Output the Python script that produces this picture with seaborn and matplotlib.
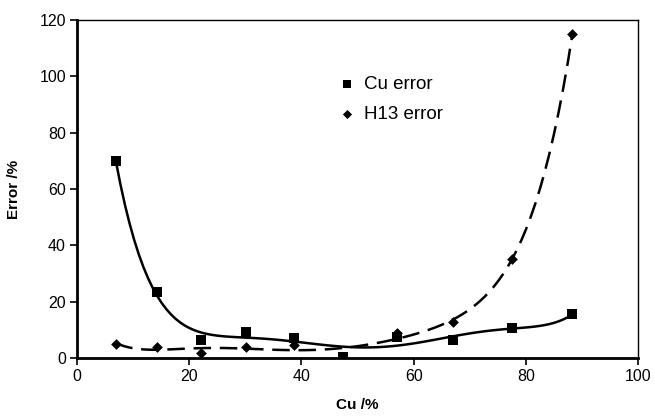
import matplotlib
matplotlib.use("Agg")
import matplotlib.pyplot as plt
import seaborn as sns

# values
cu_pct = [6.9, 14.3, 22.1, 30.1, 38.7, 47.4, 57.0, 67.0, 77.5, 88.3]
cu_error = [69.9, 23.4, 6.4, 9.2, 7.3, 0.4, 7.5, 6.4, 10.8, 15.5]
h13_error = [5.2, 3.9, 2.0, 3.9, 4.8, 0.5, 9.0, 12.9, 35.1, 115.0]

sns.set_style("white")
plt.rcParams['font.family'] = ['Liberation Sans', 'DejaVu Sans']
plt.rcParams['text.color'] = 'black'
plt.rcParams['xtick.color'] = 'black'
plt.rcParams['ytick.color'] = 'black'
plt.rcParams['axes.labelcolor'] = 'black'

fig = plt.figure(figsize=(6.55, 4.16), dpi=100)
ax = fig.add_axes([0.1176, 0.139, 0.8565, 0.813])

# polynomial trendlines
sns.regplot(x=cu_pct, y=cu_error, order=6, ci=None, scatter=False, ax=ax,
            line_kws=dict(color="black", lw=1.8))
sns.regplot(x=cu_pct, y=h13_error, order=6, ci=None, scatter=False, ax=ax,
            line_kws=dict(color="black", lw=1.8, dashes=(7, 3.5)))

sns.scatterplot(x=cu_pct, y=cu_error, marker="s", s=42, color="black",
                edgecolor="black", linewidth=0, label="Cu error", ax=ax, zorder=3)
sns.scatterplot(x=cu_pct, y=h13_error, marker="D", s=30, color="black",
                edgecolor="black", linewidth=0, label="H13 error", ax=ax, zorder=3)

ax.set_xlim(0, 100)
ax.set_ylim(0, 120)
ax.set_xticks(range(0, 101, 20))
ax.set_yticks(range(0, 121, 20))
ax.tick_params(axis="both", direction="out", length=5, width=1.2, labelsize=11.5,
               left=True, bottom=True, pad=3)
ax.set_xlabel("Cu /%", fontsize=11, fontweight="bold", labelpad=10)
ax.set_ylabel("Error /%", fontsize=11, fontweight="bold", labelpad=13)

for side in ["left", "bottom"]:
    ax.spines[side].set_linewidth(2)
    ax.spines[side].set_color("black")
for side in ["top", "right"]:
    ax.spines[side].set_linewidth(1)
    ax.spines[side].set_color("black")

ax.legend(loc="upper left", bbox_to_anchor=(0.442, 0.857), frameon=False,
          fontsize=13.5, handletextpad=0.1, handlelength=1.6,
          labelspacing=0.7, borderaxespad=0, markerscale=0.85)

fig.savefig("out.png", dpi=100)
